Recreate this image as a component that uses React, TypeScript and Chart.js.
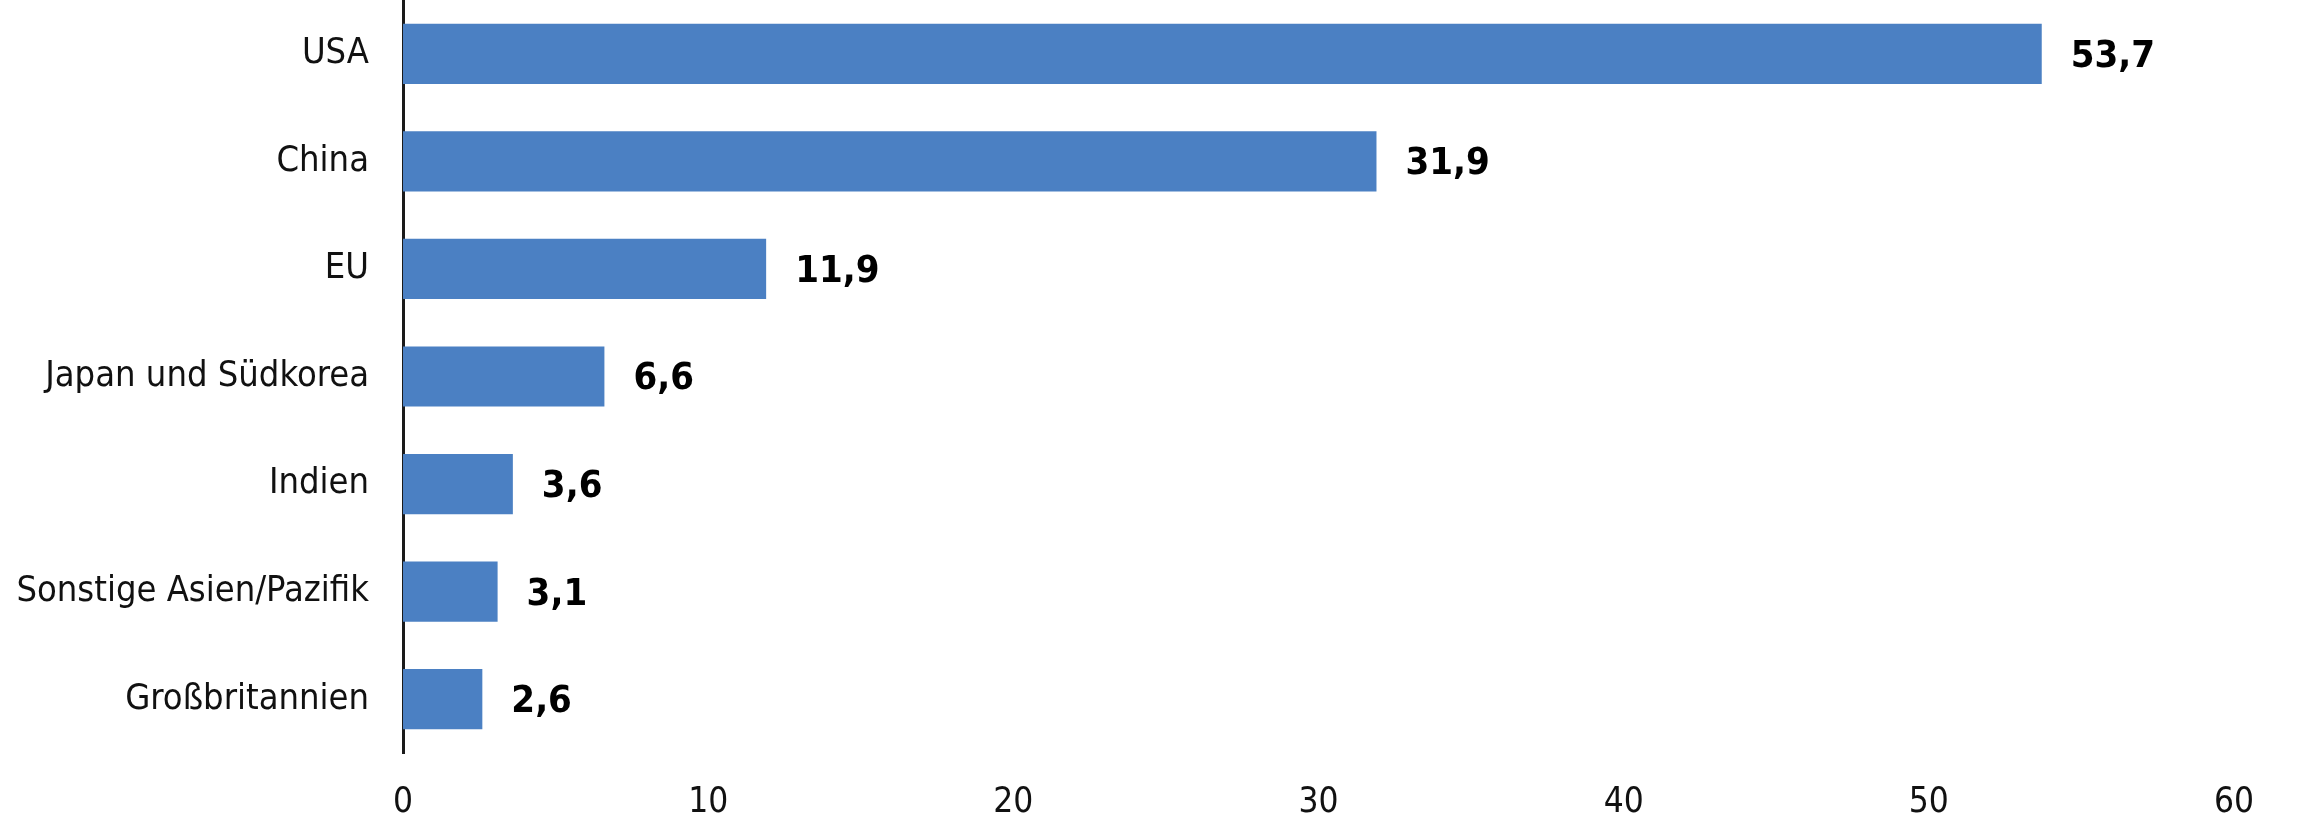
import React, { useEffect, useRef } from "react";
import { Chart, registerables } from "chart.js";

Chart.register(...registerables);

const categories: string[] = [
  "USA",
  "China",
  "EU",
  "Japan und Südkorea",
  "Indien",
  "Sonstige Asien/Pazifik",
  "Großbritannien",
];
const values: number[] = [53.7, 31.9, 11.9, 6.6, 3.6, 3.1, 2.6];
const xMin = 0;
const xMax = 60;
const xStep = 10;

const FONT = "'Liberation Sans Narrow', 'DejaVu Sans Condensed', 'Liberation Sans', sans-serif";
const BAR_COLOR = "#4b80c3";

const valueLabelPlugin = {
  id: "valueLabels",
  afterDatasetsDraw(chart: any) {
    const ctx = chart.ctx;
    const meta = chart.getDatasetMeta(0);
    const ds = chart.data.datasets[0];
    ctx.save();
    ctx.font = `bold 38px ${FONT}`;
    ctx.fillStyle = "#000";
    ctx.textAlign = "left";
    ctx.textBaseline = "middle";
    meta.data.forEach((bar: any, i: number) => {
      const v = ds.data[i] as number;
      const txt = v.toFixed(1).replace(".", ",");
      ctx.fillText(txt, bar.x + 29, bar.y + 3);
    });
    ctx.restore();
  },
};

export default function App() {
  const ref = useRef<HTMLCanvasElement | null>(null);
  useEffect(() => {
    document.body.style.margin = "0";
    if (!ref.current) return;
    const chart = new Chart(ref.current, {
      type: "bar",
      data: {
        labels: categories,
        datasets: [
          {
            data: values,
            backgroundColor: BAR_COLOR,
            borderWidth: 0,
            barPercentage: 0.56,
            categoryPercentage: 1,
          },
        ],
      },
      options: {
        indexAxis: "y",
        animation: false,
        responsive: false,
        maintainAspectRatio: false,
        layout: { padding: { top: 0, right: 79, bottom: 0, left: 0 } },
        plugins: {
          legend: { display: false },
          tooltip: { enabled: false },
        },
        scales: {
          x: {
            min: xMin,
            max: xMax,
            grid: { display: false, drawTicks: false },
            border: { display: false },
            ticks: {
              stepSize: xStep,
              color: "#111",
              font: { family: FONT, size: 35 },
              padding: 29,
            },
            afterFit: (scale: any) => {
              scale.height = 75;
              scale.paddingLeft = 0;
              scale.paddingRight = 0;
            },
          },
          y: {
            grid: { display: false, drawTicks: false },
            border: { display: true, color: "#1a1a1a", width: 3 },
            ticks: {
              color: "#111",
              font: { family: FONT, size: 36 },
              padding: 34,
            },
            afterFit: (scale: any) => {
              scale.width = 403;
              scale.paddingTop = 0;
              scale.paddingBottom = 0;
            },
          },
        },
      },
      plugins: [valueLabelPlugin],
    });
    return () => chart.destroy();
  }, []);
  return (
    <div style={{ position: "absolute", left: 0, top: 0, width: 2313, height: 828 }}>
      <canvas ref={ref} width={2313} height={828} style={{ width: 2313, height: 828 }} />
    </div>
  );
}
